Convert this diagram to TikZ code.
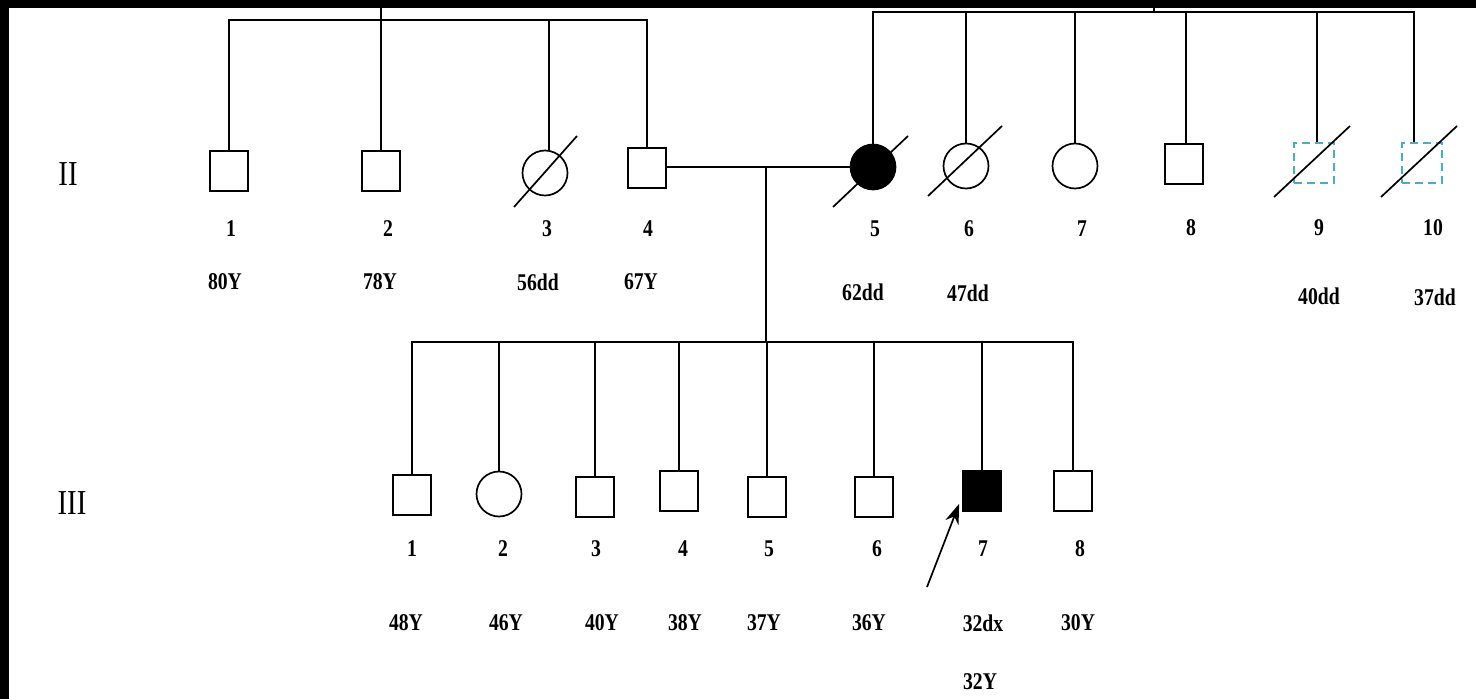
\documentclass[tikz,border=0pt]{standalone}
\usepackage{fontspec}
\setmainfont{Liberation Serif}
\newfontfamily\lbl[FakeStretch=0.82]{Liberation Serif}
\usetikzlibrary{arrows.meta}
\definecolor{dashcyan}{HTML}{4BACC6}
\begin{document}
\begin{tikzpicture}[x=0.5pt,y=-0.5pt, line width=0.85pt,
  sq/.style={draw, rectangle, minimum width=19pt, minimum height=20pt, inner sep=0pt},
  ci/.style={draw, circle, minimum size=22.5pt, inner sep=0pt},
  dsq/.style={draw=dashcyan, dash pattern=on 4pt off 2.5pt, rectangle, minimum width=20pt, minimum height=20pt, inner sep=0pt},
  aff/.style={fill=black},
  num/.style={font=\lbl\bfseries\fontsize{12}{14}\selectfont, inner sep=0pt},
  gen/.style={font=\lbl\fontsize{17.5}{20}\selectfont, inner sep=0pt}]
\useasboundingbox (0,0) rectangle (1476,699);
\fill[white] (0,0) rectangle (1476,699);
\fill[black] (0,0) rectangle (1476,8);
\fill[black] (0,0) rectangle (9,699);

% generation labels
\node[gen] (gII) at (68,174) {II};
\node[gen] (gIII) at (72,503) {III};

% parent stubs and sibship bars
\coordinate (topL) at (381,8);
\coordinate (topR) at (1154,8);
\coordinate (barL) at (229,20);
\coordinate (barR) at (872,12);
\coordinate (mar) at (766,167);
\coordinate (bar3) at (766,342);

% generation II
\node[sq] (s1) at (229,171) {};
\node[sq] (s2) at (381,171) {};
\node[ci] (c3) at (545,173) {};
\node[sq] (s4) at (647,168) {};
\node[ci, aff] (c5) at (873,167) {};
\node[ci] (c6) at (966,166) {};
\node[ci] (c7) at (1075,166) {};
\node[sq] (s8) at (1184,164) {};
\node[dsq] (s9) at (1314,163) {};
\node[dsq] (s10) at (1422,163) {};

% generation III
\node[sq] (t1) at (412,495) {};
\node[ci] (t2) at (499,494) {};
\node[sq] (t3) at (595,497) {};
\node[sq] (t4) at (679,491) {};
\node[sq] (t5) at (767,497) {};
\node[sq] (t6) at (874,497) {};
\node[sq, aff] (t7) at (982,491) {};
\node[sq] (t8) at (1073,491) {};

% left sibship
\draw (topL) -- (s2.north);
\draw (s1.north) -- (s1.north |- barL) -- (s4.north |- barL) -- (s4.north);
\draw ([xshift=2pt]c3.north) -- ([xshift=2pt]c3.north |- barL);

% right sibship
\draw (topR) -- (topR |- barR);
\draw (c5.north) -- (c5.north |- barR) -- ([xshift=-4pt]s10.north |- barR) -- ([xshift=-4pt]s10.north);
\draw (c6.north) -- (c6.north |- barR);
\draw (c7.north) -- (c7.north |- barR);
\draw ([xshift=1pt]s8.north) -- ([xshift=1pt]s8.north |- barR);
\draw ([xshift=1.5pt]s9.north) -- ([xshift=1.5pt]s9.north |- barR);

% deceased slashes
\draw ([shift={(-31,34)}]c3.center) -- ([shift={(32,-37)}]c3.center);
\draw ([shift={(-40,40)}]c5.center) -- ([shift={(35,-31)}]c5.center);
\draw ([shift={(-38,30)}]c6.center) -- ([shift={(36,-40)}]c6.center);
\draw ([shift={(-40,34)}]s9.center) -- ([shift={(36,-37)}]s9.center);
\draw ([shift={(-41,34)}]s10.center) -- ([shift={(35,-37)}]s10.center);

% marriage and descent
\draw (s4.east |- mar) -- (c5.west |- mar);
\draw (mar) -- (bar3);
\draw (t1.north) -- (t1.north |- bar3) -- (t8.north |- bar3) -- (t8.north);
\foreach \n in {t2,t3,t4,t5,t6,t7} \draw (\n.north) -- (\n.north |- bar3);

% proband arrow
\coordinate (arr) at (927,587);
\draw[-{Stealth[length=10pt,width=7pt]}] (arr) -- ([xshift=-1.5pt,yshift=4pt]t7.south west);

% labels generation II
\node[num] (n1) at (231,229) {1};
\node[num] (n2) at (388,229) {2};
\node[num] (n3) at (547,229) {3};
\node[num] (n4) at (648,229) {4};
\node[num] (n5) at (875,229) {5};
\node[num] (n6) at (969,229) {6};
\node[num] (n7) at (1082,229) {7};
\node[num] (n8) at (1191,228) {8};
\node[num] (n9) at (1319,228) {9};
\node[num] (n10) at (1433,228) {10};
\node[num] (a1) at (225,282) {80Y};
\node[num] (a2) at (380,282) {78Y};
\node[num] (a3) at (538,282) {56dd};
\node[num] (a4) at (641,282) {67Y};
\node[num] (a5) at (863,292) {62dd};
\node[num] (a6) at (968,293) {47dd};
\node[num] (a9) at (1319,296) {40dd};
\node[num] (a10) at (1435,297) {37dd};

% labels generation III
\node[num] (m1) at (412,549) {1};
\node[num] (m2) at (503,549) {2};
\node[num] (m3) at (596,549) {3};
\node[num] (m4) at (683,549) {4};
\node[num] (m5) at (769,549) {5};
\node[num] (m6) at (877,549) {6};
\node[num] (m7) at (983,549) {7};
\node[num] (m8) at (1080,549) {8};
\node[num] (b1) at (406,623) {48Y};
\node[num] (b2) at (506,623) {46Y};
\node[num] (b3) at (602,623) {40Y};
\node[num] (b4) at (685,623) {38Y};
\node[num] (b5) at (764,623) {37Y};
\node[num] (b6) at (869,623) {36Y};
\node[num] (b7) at (983,623) {32dx};
\node[num] (b8) at (1078,623) {30Y};
\node[num] (b7b) at (980,682) {32Y};
\end{tikzpicture}
\end{document}
